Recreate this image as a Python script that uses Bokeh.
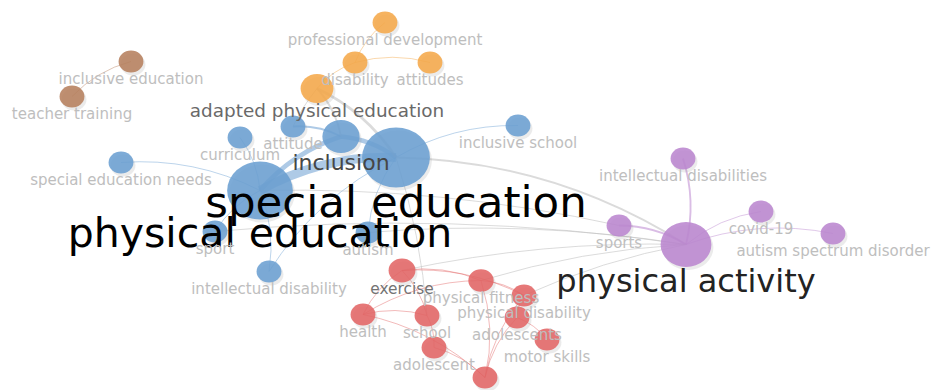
import numpy as np
from bokeh.plotting import figure
from bokeh.models import Range1d, ColumnDataSource
from bokeh.embed import file_html
from bokeh.resources import INLINE
from bokeh.core.properties import value, field

# ---- data: keyword co-occurrence map (VOSviewer-style coordinates) ----
labels = ["special education", "physical education", "physical activity", "inclusion",
          "adapted physical education", "exercise", "professional development", "disability",
          "attitudes", "inclusive education", "teacher training", "attitude", "curriculum",
          "special education needs", "inclusive school", "sport", "autism",
          "intellectual disability", "intellectual disabilities", "sports", "covid-19",
          "autism spectrum disorder", "physical fitness", "physical disability", "adolescents",
          "motor skills", "health", "school", "adolescent", ""]
clusters = ["blue", "blue", "purple", "blue", "orange", "red", "orange", "orange",
            "orange", "brown", "brown", "blue", "blue", "blue", "blue", "blue", "blue",
            "blue", "purple", "purple", "purple", "purple", "red", "red", "red",
            "red", "red", "red", "red", "red"]
map_x = [-0.71, -2.07, 2.19, -1.26, -1.50, -0.65, -0.82, -1.12, -0.37, -3.36, -3.95, -1.74,
         -2.27, -3.46, 0.51, -2.52, -0.99, -1.98, 2.16, 1.52, 2.94, 3.66, 0.14, 0.57, 0.50,
         0.80, -1.04, -0.40, -0.33, 0.18]
map_y = [0.38, 0.05, -0.49, 0.59, 1.07, -0.75, 1.73, 1.33, 1.33, 1.34, 0.99, 0.69, 0.58,
         0.33, 0.70, -0.36, -0.37, -0.76, 0.37, -0.30, -0.16, -0.38, -0.85, -1.00, -1.22,
         -1.44, -1.19, -1.20, -1.52, -1.82]
weights = [100, 95, 60, 35, 26, 14, 10, 10, 10, 10, 10, 10, 10, 10, 10, 10, 10, 10, 10, 10,
           10, 10, 11, 10, 10, 10, 10, 10, 10, 10]

edge_source = ["physical education", "physical education", "special education", "inclusion",
               "inclusion", "special education", "attitude", "curriculum",
               "special education needs", "sport", "intellectual disability",
               "special education", "special education", "special education",
               "sport", "special education", "physical education",
               "special education", "physical activity", "physical activity", "physical activity",
               "physical activity", "physical fitness", "exercise", "physical disability", "autism",
               "health", "health", "exercise", "exercise", "exercise", "health", "health",
               "adolescent", "physical fitness", "physical disability", "adolescents", "school",
               "physical fitness", "adolescents", "physical disability", "adapted physical education",
               "disability", "disability", "teacher training"]
edge_target = ["special education", "inclusion", "inclusion", "attitude",
               "adapted physical education", "adapted physical education",
               "adapted physical education", "physical education", "physical education",
               "physical education", "physical education", "intellectual disability", "autism",
               "inclusive school", "physical activity", "physical activity", "sports", "school",
               "intellectual disabilities", "sports", "covid-19", "autism spectrum disorder",
               "physical activity", "physical activity", "physical activity", "physical activity",
               "exercise", "school", "school", "physical fitness", "physical disability",
               "physical fitness", "", "", "", "", "", "adolescent", "physical disability",
               "motor skills", "adolescents", "disability", "attitudes",
               "professional development", "inclusive education"]
edge_strength = [10, 5, 5, 2, 2, 3, 1, 1, 1, 1, 1, 1, 1, 1, 1, 2, 1, 1, 2, 2, 1, 1, 1, 1, 1,
                 1, 1, 1, 1, 1, 1, 1, 1, 1, 1, 1, 1, 1, 1, 1, 1, 1, 1, 1, 1]

cluster_colors = {"blue": "#6b9fd2", "purple": "#bb86cf", "red": "#e26565",
                  "orange": "#f5a84a", "brown": "#b67f5d"}

# ---- scales ----
w = np.array(weights, dtype=float)
radius = np.interp(w, [10, 35, 60, 100], [11, 16.5, 22.5, 30])
font_px = np.interp(w, [10, 20, 35, 60, 95, 100], [15, 16, 22, 32, 41, 43.5])
gray = np.interp(w, [12, 14, 26, 35, 60, 90], [190, 115, 105, 70, 35, 0]).astype(int)
label_k = np.interp(font_px, [15, 32, 41], [0.42, 0.45, 0.33])
PX = 100.0  # screen pixels per map unit

index = {name: i for i, name in enumerate(labels)}

p = figure(width=933, height=390, x_range=Range1d(-4.665, 4.665), y_range=Range1d(-1.95, 1.95),
           output_backend="svg", toolbar_location=None, min_border=0,
           x_axis_location=None, y_axis_location=None)
p.grid.visible = False
p.outline_line_color = None
p.background_fill_color = "white"
p.border_fill_color = "white"

# ---- edges (curved) ----
x0s, y0s, x1s, y1s, cxs, cys, ecol, ealpha, ewid = [], [], [], [], [], [], [], [], []
for s, t, k in zip(edge_source, edge_target, edge_strength):
    a, b = index[s], index[t]
    if map_x[a] > map_x[b]:
        a, b = b, a
    xa, ya, xb, yb = map_x[a], map_y[a], map_x[b], map_y[b]
    dx, dy = xb - xa, yb - ya
    same = clusters[a] == clusters[b]
    c = 0.14 if (same or k > 1) else 0.06
    x0s.append(xa); y0s.append(ya); x1s.append(xb); y1s.append(yb)
    cxs.append((xa + xb) / 2 - c * dy)
    cys.append((ya + yb) / 2 + c * dx)
    if same:
        ecol.append(cluster_colors[clusters[a]])
        ealpha.append(0.55 if k > 1 else 0.45)
    else:
        ecol.append("#bdbdbd")
        ealpha.append(0.55)
    ewid.append(float(np.interp(k, [1, 10], [1.0, 9.0])))

esrc = ColumnDataSource(dict(x0=x0s, y0=y0s, x1=x1s, y1=y1s, cx=cxs, cy=cys,
                             color=ecol, alpha=ealpha, width=ewid))
p.quadratic(x0="x0", y0="y0", x1="x1", y1="y1", cx="cx", cy="cy", source=esrc,
            line_color="color", line_alpha="alpha", line_width="width")

# ---- nodes ----
nsrc = ColumnDataSource(dict(
    x=map_x, y=map_y,
    sx=[v + 2.0 / PX for v in map_x], sy=[v - 3.0 / PX for v in map_y],
    w=list(radius * 2 * 1.13), h=list(radius * 2),
    color=[cluster_colors[c] for c in clusters],
    label=labels,
    fs=[f"{v:.1f}px" for v in font_px],
    tc=[f"rgb({g},{g},{g})" for g in gray],
    yo=list(radius + label_k * font_px),
))
p.ellipse(x="sx", y="sy", width="w", height="h", width_units="screen", height_units="screen",
          source=nsrc, fill_color="#808080", fill_alpha=0.16, line_color=None)
p.ellipse(x="x", y="y", width="w", height="h", width_units="screen", height_units="screen",
          source=nsrc, fill_color="color", fill_alpha=0.88, line_color=None)

# ---- labels ----
p.text(x="x", y="y", text="label", source=nsrc, text_font=value("DejaVu Sans"),
       text_font_size=field("fs"), text_color="tc", text_align="center",
       text_baseline="middle", y_offset="yo")

open("out.html", "w").write(file_html(p, INLINE))
